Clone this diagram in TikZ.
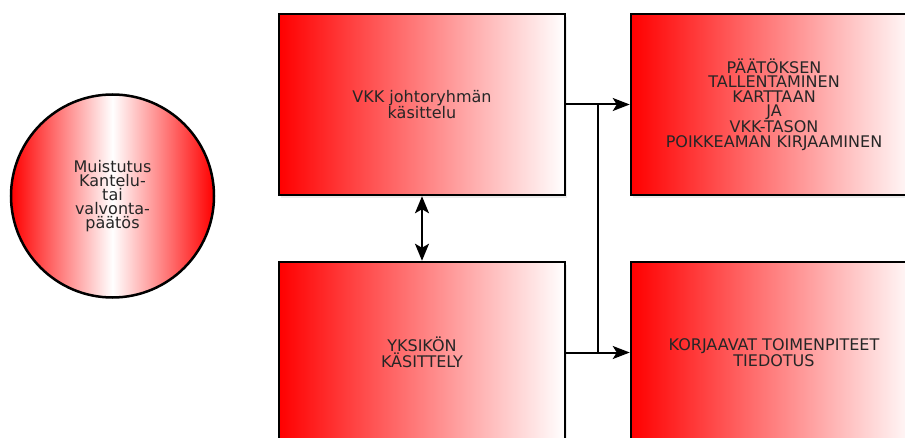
\documentclass[tikz,border=0pt]{standalone}
\usepackage{fontspec}
\setmainfont{DejaVu Sans}
\usetikzlibrary{arrows.meta,shadows}

\begin{document}
\begin{tikzpicture}[x=1pt, y=1pt,
		box/.style={draw=black, line width=2.5pt, minimum width=286pt, minimum height=181pt,
			left color=red, right color=white, align=center, text=black!85,
			font=\fontsize{16}{14.5}\selectfont,
			drop shadow={opacity=0.15, shadow xshift=2pt, shadow yshift=-3pt}},
		alku/.style={circle, draw=black, line width=2.5pt, minimum size=203pt,
			left color=red, right color=red, middle color=white, align=center, text=black!85,
			font=\fontsize{16}{14}\selectfont},
		flow/.style={line width=2pt, -{Stealth[length=17pt, width=13pt, inset=4pt]}},
		both/.style={line width=2pt, {Stealth[length=17pt, width=14pt, inset=4pt]}-{Stealth[length=17pt, width=14pt, inset=4pt]}}]
		\clip (0,0) rectangle (905,437);
		\useasboundingbox (0,0) rectangle (905,437);
		
		% Start
		\node[alku] (muistutus) at (112.5,241) {Muistutus\\Kantelu-\\tai\\valvonta-\\päätös};
		
		% Boxes
		\node[box] (vkk) at (422,332.5) {VKK johtoryhmän\\käsittelu};
		\node[box] (yksikko) at (422,84.5) {YKSIKÖN\\KÄSITTELY};
		\node[box] (tallennus) at (774,332.5) {PÄÄTÖKSEN\\TALLENTAMINEN\\KARTTAAN\\JA\\VKK-TASON\\POIKKEAMAN KIRJAAMINEN};
		\node[box] (korjaus) at (774,84.5) {KORJAAVAT TOIMENPITEET\\TIEDOTUS};
		
		% Connectors
		\draw[both] (vkk.south) -- (yksikko.north);
		\draw[flow] (vkk.east) -- ++(32,0) |- (korjaus.west);
		\draw[flow] (yksikko.east) -- ++(32,0) |- (tallennus.west);
	\end{tikzpicture}
\end{document}
